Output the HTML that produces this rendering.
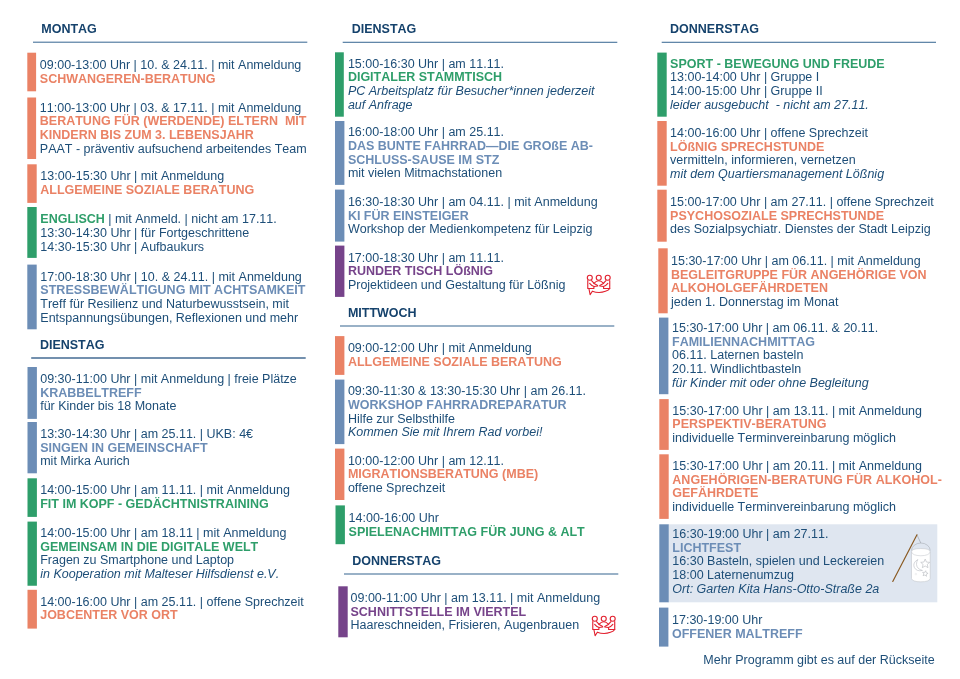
<!DOCTYPE html>
<html lang="de"><head><meta charset="utf-8"><title>Programm</title>
<style>
html,body{margin:0;padding:0;background:#fff;}
body{width:960px;height:679px;position:relative;overflow:hidden;font-family:"Liberation Sans",Arial,sans-serif;font-size:12.5px;line-height:13.67px;color:#1d4e78;}
.bar{position:absolute;width:9.4px;}
.bg{position:absolute;background:#dee5f0;}
.tx{position:absolute;white-space:nowrap;font-kerning:none;}
.tx div{height:13.67px;}
.t{font-weight:bold;}
.i{font-style:italic;}
.h{position:absolute;font-weight:bold;color:#15426c;white-space:nowrap;font-kerning:none;}
.ln{position:absolute;height:1px;background:#4f7fa3;}
svg{position:absolute;overflow:visible;}
</style></head><body>

<svg width="960" height="679" viewBox="0 0 960 679" style="left:0;top:0"><rect x="33.00" y="41.65" width="274.30" height="1.10" fill="#47739b"/><rect x="31.20" y="357.30" width="274.50" height="1.40" fill="#38628c"/><rect x="342.70" y="41.75" width="274.60" height="1.10" fill="#47739b"/><rect x="340.00" y="325.45" width="274.30" height="1.10" fill="#47739b"/><rect x="344.00" y="573.45" width="274.30" height="1.10" fill="#47739b"/><rect x="661.70" y="41.75" width="274.30" height="1.10" fill="#47739b"/><rect x="27.30" y="52.70" width="8.80" height="38.60" fill="#ea8265"/><rect x="27.30" y="97.50" width="8.80" height="61.50" fill="#ea8265"/><rect x="27.30" y="164.30" width="9.40" height="38.60" fill="#ea8265"/><rect x="27.30" y="207.00" width="9.40" height="50.90" fill="#2e9e6a"/><rect x="27.30" y="264.60" width="9.40" height="64.70" fill="#6c8db6"/><rect x="27.50" y="367.00" width="9.40" height="51.90" fill="#6c8db6"/><rect x="27.50" y="422.00" width="9.40" height="51.30" fill="#6c8db6"/><rect x="27.50" y="478.30" width="9.40" height="38.60" fill="#2e9e6a"/><rect x="27.50" y="521.60" width="9.40" height="64.15" fill="#2e9e6a"/><rect x="27.50" y="589.80" width="9.40" height="38.80" fill="#ea8265"/><rect x="335.00" y="52.30" width="8.80" height="64.40" fill="#2e9e6a"/><rect x="335.00" y="121.00" width="9.40" height="63.90" fill="#6c8db6"/><rect x="335.00" y="189.60" width="9.40" height="52.00" fill="#6c8db6"/><rect x="335.00" y="245.60" width="9.40" height="51.30" fill="#76438a"/><rect x="335.00" y="336.10" width="9.40" height="38.80" fill="#ea8265"/><rect x="335.00" y="379.60" width="9.40" height="64.50" fill="#6c8db6"/><rect x="335.00" y="448.60" width="9.40" height="51.40" fill="#ea8265"/><rect x="335.50" y="505.40" width="9.40" height="38.80" fill="#2e9e6a"/><rect x="338.30" y="586.30" width="9.40" height="51.00" fill="#76438a"/><rect x="657.30" y="52.60" width="9.40" height="64.10" fill="#2e9e6a"/><rect x="657.30" y="121.00" width="9.40" height="64.70" fill="#ea8265"/><rect x="657.30" y="189.70" width="9.40" height="52.00" fill="#ea8265"/><rect x="658.30" y="248.30" width="9.40" height="65.00" fill="#ea8265"/><rect x="659.00" y="317.60" width="9.40" height="76.60" fill="#6c8db6"/><rect x="659.30" y="399.10" width="9.40" height="50.80" fill="#ea8265"/><rect x="659.30" y="454.30" width="9.40" height="64.60" fill="#ea8265"/><rect x="668.00" y="524.30" width="269.30" height="78.00" fill="#dfe6f0"/><rect x="659.30" y="524.30" width="9.40" height="78.00" fill="#6c8db6"/><rect x="659.00" y="607.60" width="9.40" height="39.00" fill="#6c8db6"/></svg>
<div class="h" style="left:41.3px;top:23.36px">MONTAG</div>
<div class="h" style="left:39.9px;top:339.37px">DIENSTAG</div>
<div class="h" style="left:351.7px;top:23.36px">DIENSTAG</div>
<div class="h" style="left:347.9px;top:307.37px">MITTWOCH</div>
<div class="h" style="left:352.2px;top:554.97px">DONNERSTAG</div>
<div class="h" style="left:670.0px;top:23.36px">DONNERSTAG</div>
<div class="tx" style="left:39.8px;top:59.06px"><div>09:00-13:00 Uhr | 10. &amp; 24.11. | mit Anmeldung</div><div class="t" style="color:#ea8265">SCHWANGEREN-BERATUNG</div></div>
<div class="tx" style="left:39.8px;top:101.77px"><div>11:00-13:00 Uhr | 03. &amp; 17.11. | mit Anmeldung</div><div class="t" style="color:#ea8265">BERATUNG FÜR (WERDENDE) ELTERN&nbsp; MIT</div><div class="t" style="color:#ea8265">KINDERN BIS ZUM 3. LEBENSJAHR</div><div>PAAT - präventiv aufsuchend arbeitendes Team</div></div>
<div class="tx" style="left:40.3px;top:170.06px"><div>13:00-15:30 Uhr | mit Anmeldung</div><div class="t" style="color:#ea8265">ALLGEMEINE SOZIALE BERATUNG</div></div>
<div class="tx" style="left:40.3px;top:213.37px"><div><b style="color:#2e9e6a">ENGLISCH</b> | mit Anmeld. | nicht am 17.11.</div><div>13:30-14:30 Uhr | für Fortgeschrittene</div><div>14:30-15:30 Uhr | Aufbaukurs</div></div>
<div class="tx" style="left:40.3px;top:270.76px"><div>17:00-18:30 Uhr | 10. &amp; 24.11. | mit Anmeldung</div><div class="t" style="color:#6c8db6;letter-spacing:0.04px">STRESSBEWÄLTIGUNG MIT ACHTSAMKEIT</div><div>Treff für Resilienz und Naturbewusstsein, mit</div><div>Entspannungsübungen, Reflexionen und mehr</div></div>
<div class="tx" style="left:40.2px;top:373.06px"><div>09:30-11:00 Uhr | mit Anmeldung | freie Plätze</div><div class="t" style="color:#6c8db6">KRABBELTREFF</div><div>für Kinder bis 18 Monate</div></div>
<div class="tx" style="left:40.2px;top:428.06px"><div>13:30-14:30 Uhr | am 25.11. | UKB: 4€</div><div class="t" style="color:#6c8db6">SINGEN IN GEMEINSCHAFT</div><div>mit Mirka Aurich</div></div>
<div class="tx" style="left:40.2px;top:484.06px"><div>14:00-15:00 Uhr | am 11.11. | mit Anmeldung</div><div class="t" style="color:#2e9e6a">FIT IM KOPF - GEDÄCHTNISTRAINING</div></div>
<div class="tx" style="left:40.2px;top:527.07px"><div>14:00-15:00 Uhr | am 18.11 | mit Anmeldung</div><div class="t" style="color:#2e9e6a">GEMEINSAM IN DIE DIGITALE WELT</div><div>Fragen zu Smartphone und Laptop</div><div class="i">in Kooperation mit Malteser Hilfsdienst e.V.</div></div>
<div class="tx" style="left:40.2px;top:595.77px"><div>14:00-16:00 Uhr | am 25.11. | offene Sprechzeit</div><div class="t" style="color:#ea8265">JOBCENTER VOR ORT</div></div>
<div class="tx" style="left:347.9px;top:57.56px"><div>15:00-16:30 Uhr | am 11.11.</div><div class="t" style="color:#2e9e6a">DIGITALER STAMMTISCH</div><div class="i">PC Arbeitsplatz für Besucher*innen jederzeit</div><div class="i">auf Anfrage</div></div>
<div class="tx" style="left:347.9px;top:126.37px"><div>16:00-18:00 Uhr | am 25.11.</div><div class="t" style="color:#6c8db6">DAS BUNTE FAHRRAD—DIE GROßE AB-</div><div class="t" style="color:#6c8db6">SCHLUSS-SAUSE IM STZ</div><div>mit vielen Mitmachstationen</div></div>
<div class="tx" style="left:347.9px;top:195.87px"><div>16:30-18:30 Uhr | am 04.11. | mit Anmeldung</div><div class="t" style="color:#6c8db6">KI FÜR EINSTEIGER</div><div>Workshop der Medienkompetenz für Leipzig</div></div>
<div class="tx" style="left:347.9px;top:251.76px"><div>17:00-18:30 Uhr | am 11.11.</div><div class="t" style="color:#76438a">RUNDER TISCH LÖßNIG</div><div>Projektideen und Gestaltung für Lößnig</div></div>
<div class="tx" style="left:347.9px;top:342.06px"><div>09:00-12:00 Uhr | mit Anmeldung</div><div class="t" style="color:#ea8265">ALLGEMEINE SOZIALE BERATUNG</div></div>
<div class="tx" style="left:347.9px;top:385.37px"><div>09:30-11:30 &amp; 13:30-15:30 Uhr | am 26.11.</div><div class="t" style="color:#6c8db6">WORKSHOP FAHRRADREPARATUR</div><div>Hilfe zur Selbsthilfe</div><div class="i">Kommen Sie mit Ihrem Rad vorbei!</div></div>
<div class="tx" style="left:347.9px;top:454.76px"><div>10:00-12:00 Uhr | am 12.11.</div><div class="t" style="color:#ea8265">MIGRATIONSBERATUNG (MBE)</div><div>offene Sprechzeit</div></div>
<div class="tx" style="left:348.6px;top:512.07px"><div>14:00-16:00 Uhr</div><div class="t" style="color:#2e9e6a">SPIELENACHMITTAG FÜR JUNG &amp; ALT</div></div>
<div class="tx" style="left:350.5px;top:592.07px"><div>09:00-11:00 Uhr | am 13.11. | mit Anmeldung</div><div class="t" style="color:#76438a">SCHNITTSTELLE IM VIERTEL</div><div>Haareschneiden, Frisieren, Augenbrauen</div></div>
<div class="tx" style="left:670.1px;top:57.56px"><div class="t" style="color:#2e9e6a">SPORT - BEWEGUNG UND FREUDE</div><div>13:00-14:00 Uhr | Gruppe I</div><div>14:00-15:00 Uhr | Gruppe II</div><div class="i">leider ausgebucht&nbsp; - nicht am 27.11.</div></div>
<div class="tx" style="left:670.1px;top:127.06px"><div>14:00-16:00 Uhr | offene Sprechzeit</div><div class="t" style="color:#ea8265">LÖßNIG SPRECHSTUNDE</div><div>vermitteln, informieren, vernetzen</div><div class="i">mit dem Quartiersmanagement Lößnig</div></div>
<div class="tx" style="left:670.1px;top:195.87px"><div>15:00-17:00 Uhr | am 27.11. | offene Sprechzeit</div><div class="t" style="color:#ea8265">PSYCHOSOZIALE SPRECHSTUNDE</div><div>des Sozialpsychiatr. Dienstes der Stadt Leipzig</div></div>
<div class="tx" style="left:671.0px;top:254.87px"><div>15:30-17:00 Uhr | am 06.11. | mit Anmeldung</div><div class="t" style="color:#ea8265">BEGLEITGRUPPE FÜR ANGEHÖRIGE VON</div><div class="t" style="color:#ea8265">ALKOHOLGEFÄHRDETEN</div><div>jeden 1. Donnerstag im Monat</div></div>
<div class="tx" style="left:672.0px;top:322.06px"><div>15:30-17:00 Uhr | am 06.11. &amp; 20.11.</div><div class="t" style="color:#6c8db6">FAMILIENNACHMITTAG</div><div>06.11. Laternen basteln</div><div>20.11. Windlichtbasteln</div><div class="i">für Kinder mit oder ohne Begleitung</div></div>
<div class="tx" style="left:672.3px;top:404.76px"><div>15:30-17:00 Uhr | am 13.11. | mit Anmeldung</div><div class="t" style="color:#ea8265">PERSPEKTIV-BERATUNG</div><div>individuelle Terminvereinbarung möglich</div></div>
<div class="tx" style="left:672.3px;top:460.06px"><div>15:30-17:00 Uhr | am 20.11. | mit Anmeldung</div><div class="t" style="color:#ea8265;letter-spacing:0.05px">ANGEHÖRIGEN-BERATUNG FÜR ALKOHOL-</div><div class="t" style="color:#ea8265">GEFÄHRDETE</div><div>individuelle Terminvereinbarung möglich</div></div>
<div class="tx" style="left:672.3px;top:528.07px"><div>16:30-19:00 Uhr | am 27.11.</div><div class="t" style="color:#6c8db6">LICHTFEST</div><div>16:30 Basteln, spielen und Leckereien</div><div>18:00 Laternenumzug</div><div class="i">Ort: Garten Kita Hans-Otto-Straße 2a</div></div>
<div class="tx" style="left:672.0px;top:614.07px"><div>17:30-19:00 Uhr</div><div class="t" style="color:#6c8db6">OFFENER MALTREFF</div></div>
<div class="tx" style="left:703.3px;top:654.37px"><div>Mehr Programm gibt es auf der Rückseite</div></div>
<svg style="left:580px;top:268px" width="40" height="32" viewBox="0 0 849 679" fill="none" stroke="#e2212f" stroke-width="24" stroke-linecap="round" stroke-linejoin="round">
<circle cx="208" cy="208" r="53"/><circle cx="398" cy="208" r="53"/><circle cx="588" cy="208" r="53"/>
<path d="M165 265V435H295V398"/><path d="M245 268L300 328L375 372"/><path d="M205 325Q250 380 300 392L375 382"/>
<path d="M631 265V435H501V398"/><path d="M551 268L496 328L421 372"/><path d="M591 325Q546 380 496 392L421 382"/>
<path d="M295 325Q398 215 501 325"/>
<path d="M190 440L215 568L262 492Q400 545 540 495Q610 470 631 435"/>
</svg>
<svg style="left:584.53px;top:608.66px" width="40" height="32" viewBox="0 0 849 679" fill="none" stroke="#e2212f" stroke-width="24" stroke-linecap="round" stroke-linejoin="round">
<circle cx="208" cy="208" r="53"/><circle cx="398" cy="208" r="53"/><circle cx="588" cy="208" r="53"/>
<path d="M165 265V435H295V398"/><path d="M245 268L300 328L375 372"/><path d="M205 325Q250 380 300 392L375 382"/>
<path d="M631 265V435H501V398"/><path d="M551 268L496 328L421 372"/><path d="M591 325Q546 380 496 392L421 382"/>
<path d="M295 325Q398 215 501 325"/>
<path d="M190 440L215 568L262 492Q400 545 540 495Q610 470 631 435"/>
</svg>
<svg style="left:885px;top:528px" width="60" height="62" viewBox="0 0 657 679" fill="none">
<path d="M350 75L392 165" stroke="#8f959d" stroke-width="6"/>
<path d="M290 248A102 83 0 0 1 495 248" stroke="#a4a9b0" stroke-width="6"/>
<path d="M290 262V555Q300 588 392 590Q485 588 495 555V262Q495 225 392 225Q290 225 290 262Z" fill="#ffffff" stroke="#bfc3c8" stroke-width="6"/>
<path d="M290 262Q300 302 392 304Q485 302 495 262" stroke="#c4c8cd" stroke-width="6"/>
<path d="M360 345Q300 380 320 430Q345 480 410 465Q350 450 345 400Q343 370 360 345Z" stroke="#b4b8be" stroke-width="6"/>
<polygon points="440,340 454,373 489,376 463,399 471,434 440,416 409,434 417,399 391,376 426,373" stroke="#aeb2b8" stroke-width="6"/>
<polygon points="446,468 451,490 472,496 453,507 454,529 437,515 417,522 425,502 412,485 433,487" stroke="#aeb2b8" stroke-width="6"/>
<circle cx="338" cy="505" r="9" stroke="#d5d8dc" stroke-width="4"/>
<path d="M350 75L85 585" stroke="#8a5a22" stroke-width="13" stroke-linecap="round"/>
</svg>
</body></html>
